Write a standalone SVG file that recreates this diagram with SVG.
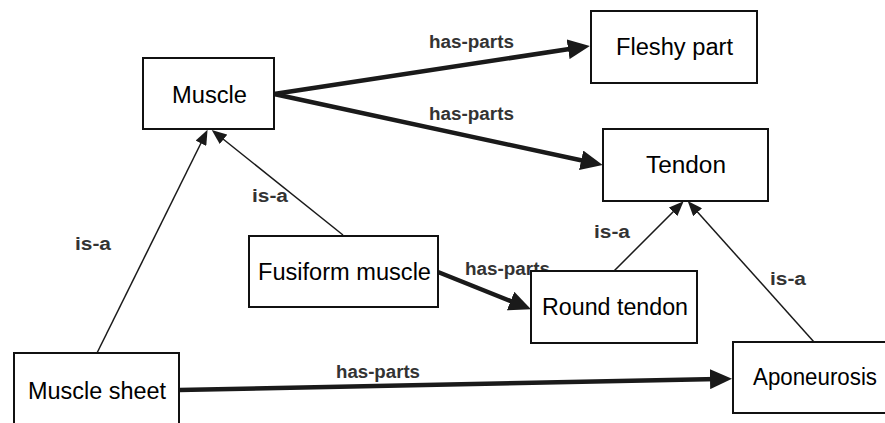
<svg xmlns="http://www.w3.org/2000/svg" width="885" height="423" viewBox="0 0 885 423">
<style>
.box{fill:#fff;stroke:#111;stroke-width:2}
.nt{font-family:"Liberation Sans","DejaVu Sans",sans-serif;font-size:23px;fill:#000;text-anchor:start}
.lb{font-family:"Liberation Sans","DejaVu Sans",sans-serif;font-size:18px;font-weight:bold;fill:#333;text-anchor:start}
.thick{stroke:#1a1a1a;stroke-width:4.5;fill:none}
.thin{stroke:#1a1a1a;stroke-width:1.5;fill:none}
</style>
<defs>
<marker id="ah" markerUnits="userSpaceOnUse" markerWidth="22" markerHeight="20" refX="8" refY="10" orient="auto">
<path d="M0,0 L22,10 L0,20 z" fill="#1a1a1a"/>
</marker>
<marker id="as" markerUnits="userSpaceOnUse" markerWidth="15" markerHeight="12" refX="7" refY="6" orient="auto">
<path d="M0,0 L15,6 L0,12 z" fill="#1a1a1a"/>
</marker>
</defs>
<rect width="885" height="423" fill="#fff"/>
<g id="connectors">
<line class="thick" x1="274" y1="94" x2="576" y2="48" marker-end="url(#ah)"/>
<line class="thick" x1="274" y1="94" x2="589" y2="162" marker-end="url(#ah)"/>
<line class="thick" x1="438" y1="272" x2="518" y2="304" marker-end="url(#ah)"/>
<line class="thick" x1="179" y1="390" x2="718" y2="379" marker-end="url(#ah)"/>
<line class="thin" x1="97" y1="353" x2="204" y2="137" marker-end="url(#as)"/>
<line class="thin" x1="343" y1="235" x2="218" y2="135" marker-end="url(#as)"/>
<line class="thin" x1="614" y1="271" x2="678" y2="207" marker-end="url(#as)"/>
<line class="thin" x1="814" y1="342" x2="693" y2="207" marker-end="url(#as)"/>
<text class="lb" x="429" y="48" textLength="85" lengthAdjust="spacingAndGlyphs">has-parts</text>
<text class="lb" x="429" y="120" textLength="85" lengthAdjust="spacingAndGlyphs">has-parts</text>
<text class="lb" x="465" y="275" textLength="85" lengthAdjust="spacingAndGlyphs">has-parts</text>
<text class="lb" x="336" y="378" textLength="84" lengthAdjust="spacingAndGlyphs">has-parts</text>
<text class="lb" x="75" y="250" textLength="36" lengthAdjust="spacingAndGlyphs">is-a</text>
<text class="lb" x="252" y="202" textLength="36" lengthAdjust="spacingAndGlyphs">is-a</text>
<text class="lb" x="594" y="238" textLength="36" lengthAdjust="spacingAndGlyphs">is-a</text>
<text class="lb" x="770" y="285" textLength="36" lengthAdjust="spacingAndGlyphs">is-a</text>
</g>
<g id="muscle">
<rect class="box" x="143" y="58" width="131" height="71"/>
<text class="nt" x="172" y="103" textLength="75" lengthAdjust="spacingAndGlyphs">Muscle</text>
</g>
<g id="fleshy-part">
<rect class="box" x="591" y="11" width="166" height="72"/>
<text class="nt" x="616" y="55" textLength="117" lengthAdjust="spacingAndGlyphs">Fleshy part</text>
</g>
<g id="tendon">
<rect class="box" x="603" y="129" width="165" height="72"/>
<text class="nt" x="646" y="173" textLength="80" lengthAdjust="spacingAndGlyphs">Tendon</text>
</g>
<g id="fusiform-muscle">
<rect class="box" x="249" y="236" width="189" height="71"/>
<text class="nt" x="258" y="280" textLength="173" lengthAdjust="spacingAndGlyphs">Fusiform muscle</text>
</g>
<g id="round-tendon">
<rect class="box" x="531" y="271" width="166" height="72"/>
<text class="nt" x="542" y="315" textLength="146" lengthAdjust="spacingAndGlyphs">Round tendon</text>
</g>
<g id="muscle-sheet">
<rect class="box" x="14" y="353" width="165" height="80"/>
<text class="nt" x="28" y="399" textLength="138" lengthAdjust="spacingAndGlyphs">Muscle sheet</text>
</g>
<g id="aponeurosis">
<rect class="box" x="733" y="342" width="165" height="71"/>
<text class="nt" x="753" y="385" textLength="124" lengthAdjust="spacingAndGlyphs">Aponeurosis</text>
</g>
</svg>
